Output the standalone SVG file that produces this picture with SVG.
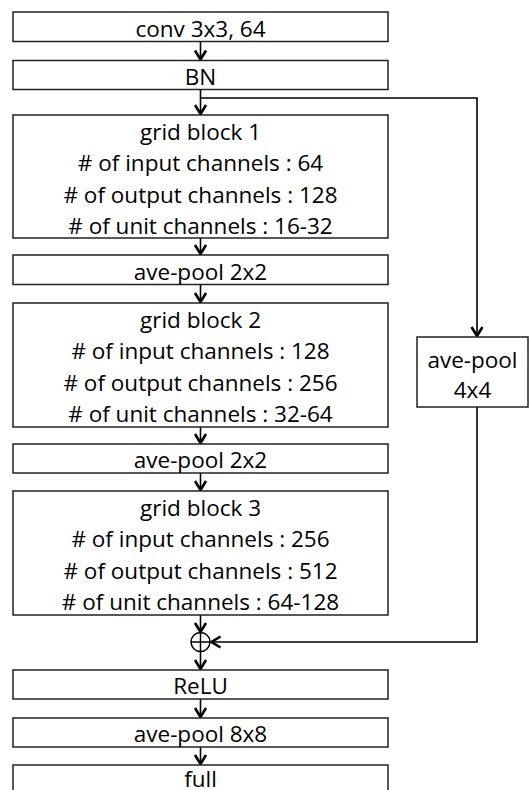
<svg xmlns="http://www.w3.org/2000/svg" width="529" height="790" viewBox="0 0 529 790">
<style>
.box{fill:#fff;stroke:#222;stroke-width:1.5}
.t{font-family:"Open Sans","Liberation Sans",sans-serif;font-size:22.5px;fill:#000;text-anchor:middle}
.c{fill:none;stroke:#000;stroke-width:1.6}
</style>
<defs>
<marker id="ah" markerUnits="userSpaceOnUse" markerWidth="20" markerHeight="20" viewBox="-10 -10 20 20" refX="0" refY="0" orient="auto" overflow="visible">
<path d="M-9,-5.5 L0,0 L-9,5.5" fill="none" stroke="#000" stroke-width="2.6"/>
</marker>
</defs>
<g id="connectors">
<line class="c" x1="200.5" y1="41.5" x2="200.5" y2="59.5" marker-end="url(#ah)"/>
<line class="c" x1="200.5" y1="89.5" x2="200.5" y2="114" marker-end="url(#ah)"/>
<polyline class="c" points="200.5,98 477,98 477,336" marker-end="url(#ah)"/>
<line class="c" x1="200.5" y1="238" x2="200.5" y2="254" marker-end="url(#ah)"/>
<line class="c" x1="200.5" y1="284.5" x2="200.5" y2="302" marker-end="url(#ah)"/>
<line class="c" x1="200.5" y1="427" x2="200.5" y2="443" marker-end="url(#ah)"/>
<line class="c" x1="200.5" y1="473" x2="200.5" y2="490" marker-end="url(#ah)"/>
<line class="c" x1="200.5" y1="615" x2="200.5" y2="632" marker-end="url(#ah)"/>
<polyline class="c" points="477,407 477,642 211.5,642" marker-end="url(#ah)"/>
<line class="c" x1="200.5" y1="651.5" x2="200.5" y2="669" marker-end="url(#ah)"/>
<line class="c" x1="200.5" y1="699" x2="200.5" y2="717" marker-end="url(#ah)"/>
<line class="c" x1="200.5" y1="747" x2="200.5" y2="764" marker-end="url(#ah)"/>
</g>
<g id="conv"><rect class="box" x="13" y="12" width="375" height="29.5"/><text class="t" x="200.5" y="36.5">conv 3x3, 64</text></g>
<g id="bn"><rect class="box" x="13" y="60.5" width="375" height="29"/><text class="t" x="200.5" y="84.5">BN</text></g>
<g id="grid1"><rect class="box" x="13" y="115" width="375" height="123"/>
<text class="t" x="200.5" y="139.5">grid block 1</text>
<text class="t" x="200.5" y="171"># of input channels : 64</text>
<text class="t" x="200.5" y="202.5"># of output channels : 128</text>
<text class="t" x="200.5" y="234"># of unit channels : 16-32</text></g>
<g id="pool1"><rect class="box" x="13" y="255" width="375" height="29.5"/><text class="t" x="200.5" y="279.5">ave-pool 2x2</text></g>
<g id="grid2"><rect class="box" x="13" y="303" width="375" height="124"/>
<text class="t" x="200.5" y="327.5">grid block 2</text>
<text class="t" x="200.5" y="359"># of input channels : 128</text>
<text class="t" x="200.5" y="390.5"># of output channels : 256</text>
<text class="t" x="200.5" y="422"># of unit channels : 32-64</text></g>
<g id="pool2"><rect class="box" x="13" y="444" width="375" height="29"/><text class="t" x="200.5" y="468">ave-pool 2x2</text></g>
<g id="grid3"><rect class="box" x="13" y="491" width="375" height="124"/>
<text class="t" x="200.5" y="515.5">grid block 3</text>
<text class="t" x="200.5" y="547"># of input channels : 256</text>
<text class="t" x="200.5" y="578.5"># of output channels : 512</text>
<text class="t" x="200.5" y="610"># of unit channels : 64-128</text></g>
<g id="pool4"><rect class="box" x="417" y="337" width="111" height="70"/>
<text class="t" x="472.5" y="368">ave-pool</text>
<text class="t" x="472.5" y="398">4x4</text></g>
<g id="sum"><circle cx="200.5" cy="642" r="9.5" fill="#fff" stroke="#000" stroke-width="1.5"/><path d="M191,642 H210 M200.5,632.5 V651.5" stroke="#000" stroke-width="1.5"/></g>
<g id="relu"><rect class="box" x="13" y="670" width="375" height="29"/><text class="t" x="200.5" y="694">ReLU</text></g>
<g id="pool8"><rect class="box" x="13" y="718" width="375" height="29"/><text class="t" x="200.5" y="742">ave-pool 8x8</text></g>
<g id="full"><rect class="box" x="13" y="765" width="375" height="29"/><text class="t" x="200.5" y="787">full</text></g>
</svg>
